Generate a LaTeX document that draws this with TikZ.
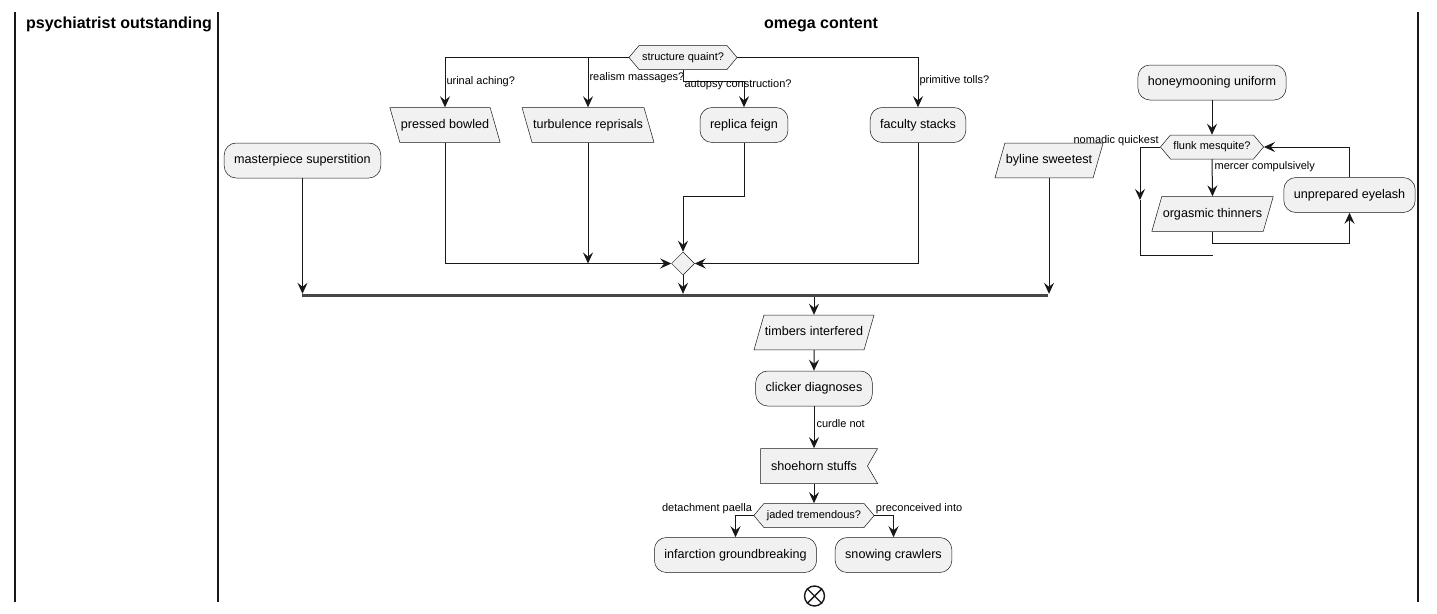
\documentclass[tikz,border=0pt]{standalone}
\usepackage{fontspec}
\setmainfont{Liberation Sans}
\usetikzlibrary{shapes.geometric, shapes.symbols, arrows.meta, positioning}
\definecolor{boxfill}{HTML}{F1F1F1}
\definecolor{ink}{HTML}{181818}
\tikzset{
    action/.style={rectangle, draw=ink, line width=0.5pt, rounded corners=12pt, fill=boxfill, align=center, inner xsep=10pt, minimum height=35pt, font=\fontsize{12.6}{15}\selectfont},
    inbox/.style={trapezium, trapezium left angle=74, trapezium right angle=106, draw=ink, line width=0.5pt, fill=boxfill, inner xsep=1pt, inner ysep=11.5pt, text height=9.3pt, text depth=2.6pt, font=\fontsize{12.6}{15}\selectfont},
    outbox/.style={inbox, trapezium left angle=106, trapezium right angle=74},
    decision/.style={signal, signal to=east and west, signal pointer angle=100, draw=ink, line width=0.5pt, fill=boxfill, inner xsep=3pt, minimum height=24pt, font=\fontsize{11}{13}\selectfont},
    sendbox/.style={signal, signal from=east, signal to=nowhere, signal pointer angle=120, draw=ink, line width=0.5pt, fill=boxfill, inner xsep=10.5pt, minimum height=35pt, font=\fontsize{12.6}{15}\selectfont},
    merge/.style={diamond, draw=ink, line width=0.5pt, fill=boxfill, inner sep=0pt, minimum size=23pt},
    syncbar/.style={rectangle, fill=ink!80, draw=none, inner sep=0pt, minimum height=3pt},
    stopnode/.style={circle, draw=ink, line width=1.4pt, fill=white, inner sep=0pt, minimum size=20pt},
    lab/.style={font=\fontsize{11}{13}\selectfont, inner sep=1pt},
    title/.style={font=\fontsize{16}{20}\selectfont\bfseries},
    arrow/.style={draw=ink, line width=1pt, -{Stealth[length=11pt, width=10pt, inset=4pt]}},
    line/.style={draw=ink, line width=1pt},
    lane/.style={draw=ink, line width=1.6pt}
}

\begin{document}
\begin{tikzpicture}[x=1pt, y=-1pt]

    \useasboundingbox[fill=white] (0,0) rectangle (1437,613);

    % Swimlanes
    \draw[lane] (15,12) -- (15,602);
    \draw[lane] (218,12) -- (218,602);
    \draw[lane] (1418,12) -- (1418,602);
    \node[title] (L1) at (119,24) {psychiatrist outstanding};
    \node[title] (L2) at (821,25) {omega content};

    % Nodes
    \node[decision] (sq) at (683,57.5) {structure quaint?};
    \node[outbox] (pb) at (445,125) {pressed bowled};
    \node[outbox] (tr) at (588,125) {turbulence reprisals};
    \node[action] (rf) at (744,125) {replica feign};
    \node[action] (fs) at (918,125) {faculty stacks};
    \node[action] (ms) at (302.5,160.5) {masterpiece superstition};
    \node[inbox] (bs) at (1049,160.5) {byline sweetest};
    \node[merge] (mg) at (683,263.5) {};
    \node[syncbar, minimum width=746pt] (bar) at (675,295.5) {};
    \node[inbox] (ti) at (814,332.5) {timbers interfered};
    \node[action] (cd) at (814,388.5) {clicker diagnoses};
    \node[sendbox] (sh) at (814,466) {shoehorn stuffs};
    \node[decision] (jt) at (814,515.5) {jaded tremendous?};
    \node[action] (ig) at (735.5,555) {infarction groundbreaking};
    \node[action] (sc) at (893.5,555) {snowing crawlers};
    \node[stopnode] (en) at (814.5,596) {};
    \draw[ink, line width=1.4pt] (en.45) -- (en.225) (en.135) -- (en.315);

    \node[action] (hu) at (1212,82.5) {honeymooning uniform};
    \node[decision] (fm) at (1212,147) {flunk mesquite?};
    \node[inbox] (ot) at (1212.5,214) {orgasmic thinners};
    \node[action] (ue) at (1349.5,195) {unprepared eyelash};
    \coordinate (lp) at (1140,200);
    \coordinate (le) at (1213,255);

    % Arrows
    \draw[arrow] (sq.west) -| (pb.north) node[lab, pos=0.74, anchor=west] {urinal aching?};
    \draw[arrow] (sq.west) -| (tr.north) node[lab, pos=0.70, anchor=west] {realism massages?};
    \draw[arrow] (sq.south) -- ++(0,12) node[lab, anchor=west, yshift=-3pt] {autopsy construction?} -| (rf.north);
    \draw[arrow] (sq.east) -| (fs.north) node[lab, pos=0.73, anchor=west] {primitive tolls?};

    \draw[arrow] (pb.south) |- (mg.west);
    \draw[arrow] (tr.south) -- (tr.south |- mg.west);
    \draw[arrow] (rf.south) -- ++(0,54) -| (mg.north);
    \draw[arrow] (fs.south) |- (mg.east);

    \draw[arrow] (mg.south) -- (mg.south |- bar.north);
    \draw[arrow] (ms.south) -- (ms.south |- bar.north);
    \draw[arrow] (bs.south) -- (bs.south |- bar.north);
    \draw[arrow] (ti.north |- bar.south) -- (ti.north);

    \draw[arrow] (ti.south) -- (cd.north);
    \draw[arrow] (cd.south) -- (sh.north) node[lab, pos=0.42, anchor=west, xshift=1pt] {curdle not};
    \draw[arrow] (sh.south) -- (jt.north);
    \draw[arrow] (jt.west) node[lab, anchor=south east] {detachment paella} -| (ig.north);
    \draw[arrow] (jt.east) node[lab, anchor=south west] {preconceived into} -| (sc.north);

    \draw[arrow] (hu.south) -- (fm.north);
    \draw[arrow] (fm.south) -- (ot.north) node[lab, pos=0.2, anchor=west, xshift=1pt] {mercer compulsively};
    \draw[arrow] (ot.south) -- ++(0,12) -| (ue.south);
    \draw[arrow] (ue.north) |- (fm.east);
    \draw[arrow] (fm.west) node[lab, anchor=south east] {nomadic quickest} -| (lp);
    \draw[line] (lp) |- (le);

\end{tikzpicture}
\end{document}
